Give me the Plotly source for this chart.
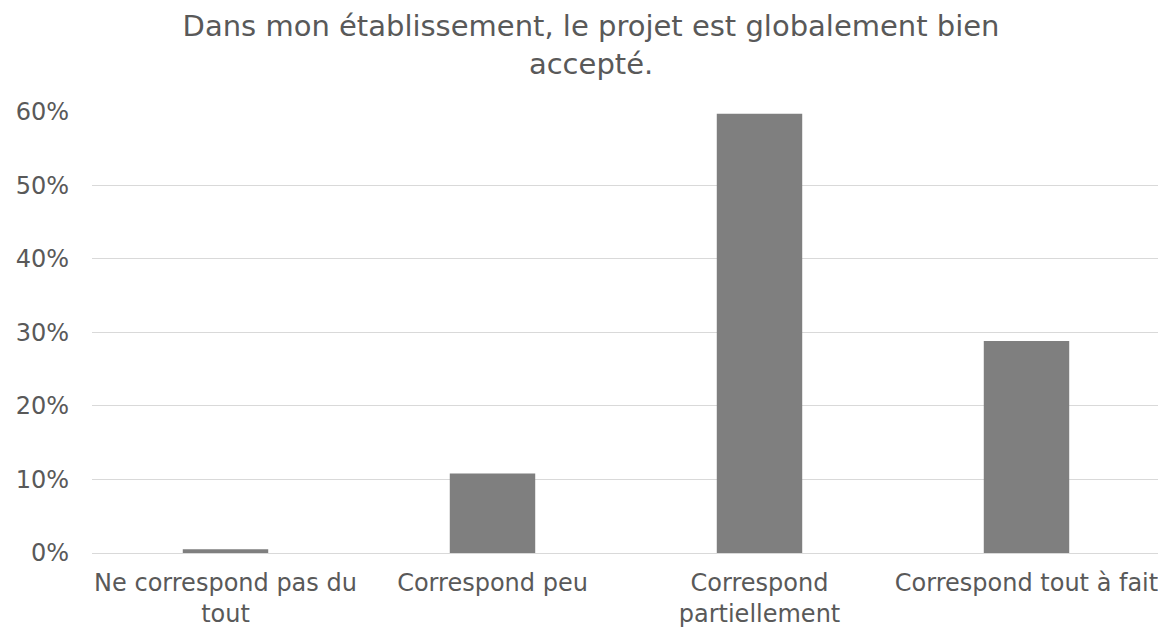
"""Barres : acceptation du projet dans l'etablissement."""

import plotly.graph_objects as go

categories = [
    "Ne correspond pas du<br>tout",
    "Correspond peu",
    "Correspond<br>partiellement",
    "Correspond tout à fait",
]
values = [0.005, 0.108, 0.597, 0.288]
y_ticks = [0, 0.1, 0.2, 0.3, 0.4, 0.5, 0.6]

TEXT = "#595959"
GRID = "#d9d9d9"

fig = go.Figure()
fig.add_trace(go.Bar(
    x=categories,
    y=values,
    marker_color="#7f7f7f",
    marker_line_width=0,
))

# la page ajoute une marge de 8 px autour de la figure
fig.update_layout(
    width=1158,
    height=619,
    title=dict(
        text="Dans mon établissement, le projet est globalement bien<br>accepté.",
        x=0.5035,
        xanchor="center",
        y=0.955,
        yanchor="top",
        font=dict(family="DejaVu Sans", size=29, color=TEXT),
    ),
    font=dict(family="DejaVu Sans", size=24, color=TEXT),
    bargap=0.68,
    plot_bgcolor="white",
    paper_bgcolor="white",
    showlegend=False,
    margin=dict(l=84, r=6, t=103, b=74),
)
fig.update_xaxes(
    showgrid=False,
    showline=True,
    linecolor=GRID,
    linewidth=1,
    ticks="",
    automargin=False,
    ticklabelstandoff=8,
    tickfont=dict(size=24, color=TEXT),
)
fig.update_yaxes(
    range=[0, 0.6008],
    tickvals=y_ticks,
    tickformat=".0%",
    showgrid=True,
    gridcolor=GRID,
    gridwidth=1,
    zeroline=False,
    ticks="",
    automargin=False,
    ticklabelstandoff=22,
    tickfont=dict(size=24, color=TEXT),
)

fig.write_html("out.html")
